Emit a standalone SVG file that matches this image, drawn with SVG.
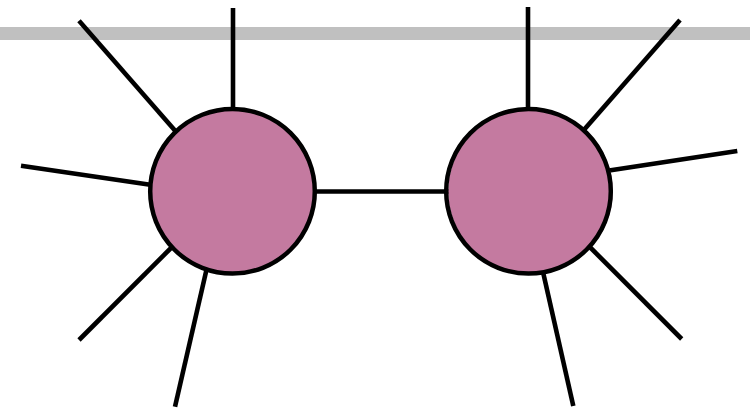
<svg xmlns="http://www.w3.org/2000/svg" width="750" height="411" viewBox="0 0 750 411">
  <style>
    .edge { stroke: #000; stroke-width: 4.6; fill: none; }
    .node { fill: #c47aa0; stroke: #000; stroke-width: 4.5; }
  </style>
  <rect width="750" height="411" fill="#fff"/>
  <rect id="bar" x="0" y="27" width="750" height="13" fill="#c0c0c0"/>
  <g id="connectors">
    <line class="edge" x1="233" y1="8" x2="233" y2="115"/>
    <line class="edge" x1="79" y1="20.7" x2="175.6" y2="131.2"/>
    <line class="edge" x1="21" y1="165.7" x2="153.6" y2="185.2"/>
    <line class="edge" x1="79" y1="340" x2="175" y2="244"/>
    <line class="edge" x1="175" y1="406.7" x2="207" y2="267.5"/>
    <line class="edge" x1="310" y1="191.5" x2="452" y2="191.5"/>
    <line class="edge" x1="528" y1="7" x2="528" y2="115"/>
    <line class="edge" x1="680" y1="20" x2="583.4" y2="130.5"/>
    <line class="edge" x1="737.3" y1="151" x2="605.8" y2="170.9"/>
    <line class="edge" x1="681.7" y1="339" x2="586.8" y2="244"/>
    <line class="edge" x1="573.3" y1="406" x2="542" y2="267.5"/>
  </g>
  <g id="node-left">
    <circle class="node" cx="232.5" cy="191.3" r="82.3"/>
  </g>
  <g id="node-right">
    <circle cx="530.5" cy="191.3" r="82.3" fill="#c47aa0"/>
    <circle cx="528.5" cy="191.3" r="82.3" fill="none" stroke="#000" stroke-width="4.5"/>
  </g>
</svg>
